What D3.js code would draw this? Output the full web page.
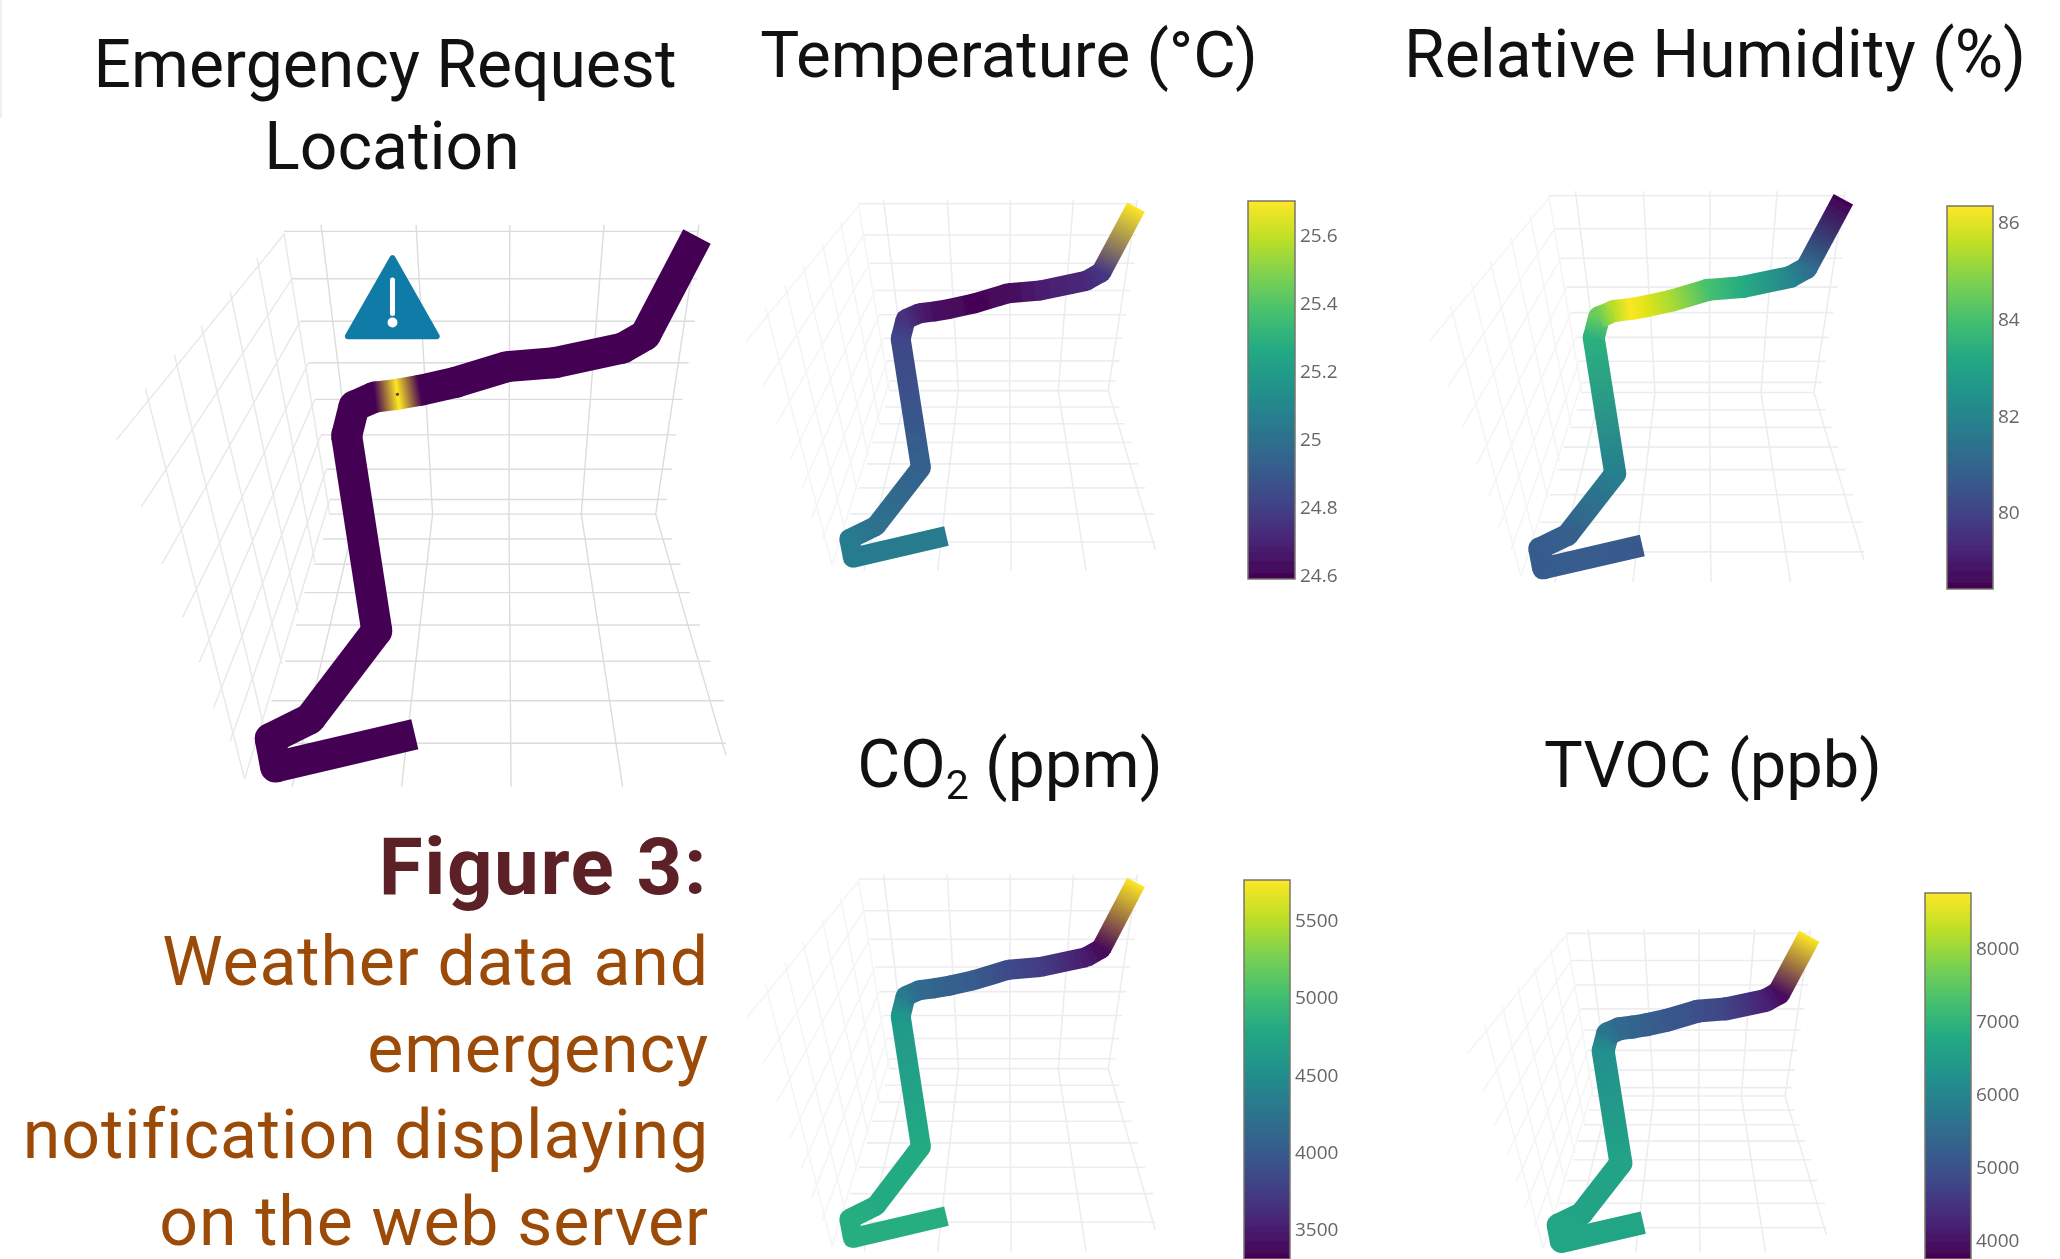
<!DOCTYPE html>
<html>
<head>
<meta charset="utf-8">
<script src="https://cdn.jsdelivr.net/npm/d3@7"></script>
<style>
	html, body { margin: 0; padding: 0; background: #fff; overflow: hidden; }
	text { font-family: Roboto, sans-serif; }
</style>
</head>
<body>
<script>
// route through the building, same for all panels
var routeU = [ 762, 425, 412, 508, 670, 597, 615, 665, 720, 775, 860, 985, 1100, 1265, 1320, 1445 ];
var routeV = [ 1347, 1430, 1358, 1308, 1085, 590, 515, 492, 485, 475, 455, 415, 405, 368, 335, 85 ];

// value at each route point
var emergencyValues = [ 0, 0, 0, 0, 0, 0, 0, 0, 1, 0, 0, 0, 0, 0, 0, 0 ];
var temperatureValues = [ 25.05, 25.05, 25.05, 25.0, 24.93, 24.82, 24.75, 24.68, 24.63, 24.62, 24.6, 24.62, 24.68, 24.72, 24.76, 25.7 ];
var humidityValues = [ 80.6, 80.7, 80.7, 80.8, 81.8, 83.5, 84.5, 85.5, 86.3, 86, 85.3, 84, 83.3, 82, 81.3, 78.4 ];
var co2Values = [ 4850, 4850, 4850, 4800, 4800, 4620, 4300, 4150, 4100, 4050, 4000, 3850, 3750, 3500, 3350, 5760 ];
var tvocValues = [ 6700, 6700, 6700, 6650, 6650, 6250, 5700, 5450, 5350, 5250, 5100, 4950, 4750, 4200, 3900, 8750 ];

var temperatureTicks = [ 24.6, 24.8, 25, 25.2, 25.4, 25.6 ];
var humidityTicks = [ 80, 82, 84, 86 ];
var co2Ticks = [ 3500, 4000, 4500, 5000, 5500 ];
var tvocTicks = [ 4000, 5000, 6000, 7000, 8000 ];

// grid lines of the 3d scene: [u, v] pairs
var wallRows = [ [ 445, 72, 1450 ], [ 465, 192, 1445 ], [ 485, 300, 1440 ], [ 505, 405, 1425 ], [ 520, 498, 1410 ], [ 535, 588, 1395 ], [ 548, 675, 1385 ], [ 556, 752, 1372 ], [ 556, 789, 1345 ] ];
var floorRows = [ [ 540, 852, 1385 ], [ 518, 916, 1405 ], [ 495, 988, 1428 ], [ 475, 1070, 1452 ], [ 448, 1162, 1478 ], [ 415, 1262, 1510 ], [ 380, 1370, 1515 ] ];
var columnLines = [
	[ [ 535, 55 ], [ 620, 789 ], [ 465, 1480 ] ],
	[ [ 765, 55 ], [ 805, 789 ], [ 730, 1480 ] ],
	[ [ 992, 55 ], [ 990, 789 ], [ 995, 1480 ] ],
	[ [ 1220, 55 ], [ 1165, 789 ], [ 1265, 1480 ] ],
	[ [ 1450, 55 ], [ 1345, 789 ], [ 1515, 1400 ] ]
];
var sideRows = [
	[ [ 445, 80 ], [ 40, 600 ] ], [ [ 465, 192 ], [ 100, 770 ] ], [ [ 485, 300 ], [ 150, 915 ] ], [ [ 505, 405 ], [ 200, 1050 ] ],
	[ [ 520, 498 ], [ 240, 1165 ] ], [ [ 535, 588 ], [ 275, 1280 ] ], [ [ 548, 675 ], [ 315, 1365 ] ], [ [ 556, 752 ], [ 350, 1460 ] ]
];
var sideColumns = [
	[ [ 110, 470 ], [ 350, 1460 ] ], [ [ 180, 385 ], [ 395, 1320 ] ], [ [ 245, 310 ], [ 440, 1170 ] ],
	[ [ 315, 225 ], [ 480, 1040 ] ], [ [ 380, 140 ], [ 520, 910 ] ], [ [ 445, 75 ], [ 556, 789 ] ]
];

var warningTriangle = [ [ 708, 140 ], [ 815, 338 ], [ 600, 338 ] ];

var captionLines = [ "Weather data and", "emergency", "notification displaying", "on the web server" ];

var panels = [
	{ id : "emergency", values : emergencyValues, x : [ 100, 761 ], y : [ 203, 834 ], tube : 31, grid : "#dcdcdc", side : "#e8e8e8", gridWidth : 1.4, blur : false },
	{ id : "temp", values : temperatureValues, x : [ 735, 1179 ], y : [ 185, 602 ], tube : 20, grid : "#ededf0", side : "#f5f5f5", gridWidth : 1.6, blur : true,
		bar : { x : 1248, width : 47, top : 201, bottom : 579, domain : [ 24.59, 25.7 ], ticks : temperatureTicks } },
	{ id : "rh", values : humidityValues, x : [ 1418, 1889 ], y : [ 176, 615 ], tube : 22, grid : "#ededf0", side : "#f5f5f5", gridWidth : 1.6, blur : true,
		bar : { x : 1947, width : 46, top : 206, bottom : 589, domain : [ 78.42, 86.35 ], ticks : humidityTicks } },
	{ id : "co2", values : co2Values, x : [ 735, 1179 ], y : [ 860, 1283 ], tube : 20, grid : "#ededf0", side : "#f5f5f5", gridWidth : 1.6, blur : true,
		bar : { x : 1244, width : 46, top : 880, bottom : 1259, domain : [ 3310, 5763 ], ticks : co2Ticks } },
	{ id : "tvoc", values : tvocValues, x : [ 1458, 1847 ], y : [ 917, 1280 ], tube : 23, grid : "#ededf0", side : "#f5f5f5", gridWidth : 1.6, blur : true,
		bar : { x : 1925, width : 46, top : 893, bottom : 1259, domain : [ 3750, 8757 ], ticks : tvocTicks } }
];

var svg = d3.select("body").append("svg")//
.attr("width", 2060)//
.attr("height", 1259)//
.style("display", "block");

var defs = svg.append("defs");
defs.append("filter").attr("id", "soft").attr("x", "-5%").attr("y", "-5%").attr("width", "110%").attr("height", "110%")//
.append("feGaussianBlur").attr("stdDeviation", 0.7);

// faint edge left over at the top left of the picture
svg.append("rect").attr("x", 0).attr("y", 0).attr("width", 2).attr("height", 118).attr("fill", "#f0f0f0");

panels.forEach(drawPanel);
drawTitles();
drawCaption();

function drawPanel(panel) {
	var x = d3.scaleLinear().domain([ 0, 1600 ]).range(panel.x);
	var y = d3.scaleLinear().domain([ 0, 1600 ]).range(panel.y);
	var line = d3.line().x(function(d) {
		return x(d[0]);
	}).y(function(d) {
		return y(d[1]);
	});

	var g = svg.append("g").attr("id", panel.id);
	if (panel.blur) {
		g.attr("filter", "url(#soft)");
	}

	// grid
	var rows = wallRows.concat(floorRows).map(function(r) {
		return [ [ r[0], r[1] ], [ r[2], r[1] ] ];
	});
	g.selectAll(".grid-main").data(rows.concat(columnLines)).enter().append("path")//
	.attr("class", "grid-main")//
	.attr("fill", "none")//
	.attr("stroke", panel.grid)//
	.attr("stroke-width", panel.gridWidth)//
	.attr("d", line);
	g.selectAll(".grid-side").data(sideRows.concat(sideColumns)).enter().append("path")//
	.attr("class", "grid-side")//
	.attr("fill", "none")//
	.attr("stroke", panel.side)//
	.attr("stroke-width", panel.gridWidth)//
	.attr("d", line);

	drawRoute(g, panel, x, y);

	if (panel.id == "emergency") {
		drawWarning(g, x, y);
	}
	if (panel.bar) {
		drawColorbar(g, panel);
	}
}

function drawRoute(g, panel, x, y) {
	var domain = panel.bar ? panel.bar.domain : [ 0, 1 ];
	var color = d3.scaleSequential(d3.interpolateViridis).domain(domain);
	var segments = d3.range(routeU.length - 1);

	// one gradient per segment, plain rgb between the two ends
	segments.forEach(function(i) {
		var gradient = defs.append("linearGradient")//
		.attr("id", panel.id + "-seg-" + i)//
		.attr("gradientUnits", "userSpaceOnUse")//
		.attr("x1", x(routeU[i]))//
		.attr("y1", y(routeV[i]))//
		.attr("x2", x(routeU[i + 1]))//
		.attr("y2", y(routeV[i + 1]));
		gradient.append("stop").attr("offset", "0%").attr("stop-color", color(panel.values[i]));
		gradient.append("stop").attr("offset", "100%").attr("stop-color", color(panel.values[i + 1]));
	});

	g.selectAll(".joint").data(d3.range(1, routeU.length - 1)).enter().append("circle")//
	.attr("class", "joint")//
	.attr("cx", function(i) {
		return x(routeU[i]);
	})//
	.attr("cy", function(i) {
		return y(routeV[i]);
	})//
	.attr("r", panel.tube / 2)//
	.attr("fill", function(i) {
		return color(panel.values[i]);
	});

	g.selectAll(".segment").data(segments).enter().append("line")//
	.attr("class", "segment")//
	.attr("x1", function(i) {
		return x(routeU[i]);
	})//
	.attr("y1", function(i) {
		return y(routeV[i]);
	})//
	.attr("x2", function(i) {
		return x(routeU[i + 1]);
	})//
	.attr("y2", function(i) {
		return y(routeV[i + 1]);
	})//
	.attr("stroke", function(i) {
		return "url(#" + panel.id + "-seg-" + i + ")";
	})//
	.attr("stroke-width", panel.tube);

	if (panel.id == "emergency") {
		g.append("circle")//
		.attr("cx", x(routeU[8]))//
		.attr("cy", y(routeV[8]))//
		.attr("r", 1.5)//
		.attr("fill", "#4a3a20");
	}
}

function drawWarning(g, x, y) {
	var points = warningTriangle.map(function(d) {
		return [ x(d[0]), y(d[1]) ];
	});
	g.append("path")//
	.attr("d", "M" + points.join("L") + "Z")//
	.attr("fill", "#0f7ba6")//
	.attr("stroke", "#0f7ba6")//
	.attr("stroke-width", 6)//
	.attr("stroke-linejoin", "round");

	var cx = points[0][0];
	g.append("path")//
	.attr("d", "M" + cx + "," + y(195) + "L" + cx + "," + y(280))//
	.attr("stroke", "#fff")//
	.attr("stroke-width", 5)//
	.attr("stroke-linecap", "round");
	g.append("circle")//
	.attr("cx", cx)//
	.attr("cy", y(303))//
	.attr("r", 5)//
	.attr("fill", "#fff");
}

function drawColorbar(g, panel) {
	var bar = panel.bar;
	var gradientId = panel.id + "-bar";
	var gradient = defs.append("linearGradient")//
	.attr("id", gradientId)//
	.attr("x1", 0).attr("y1", 1).attr("x2", 0).attr("y2", 0);
	gradient.selectAll("stop").data(d3.range(0, 1.01, 0.1)).enter().append("stop")//
	.attr("offset", function(d) {
		return d;
	})//
	.attr("stop-color", function(d) {
		return d3.interpolateViridis(d);
	});

	g.append("rect")//
	.attr("x", bar.x)//
	.attr("y", bar.top)//
	.attr("width", bar.width)//
	.attr("height", bar.bottom - bar.top)//
	.attr("fill", "url(#" + gradientId + ")")//
	.attr("stroke", "#77776a")//
	.attr("stroke-width", 1.5);

	var scale = d3.scaleLinear().domain(bar.domain).range([ bar.bottom, bar.top ]);
	var axis = d3.axisRight(scale).tickValues(bar.ticks).tickSize(0).tickPadding(5).tickFormat(function(d) {
		return d;
	});
	var axisG = g.append("g")//
	.attr("transform", "translate(" + (bar.x + bar.width) + ",0)")//
	.call(axis);
	axisG.select(".domain").remove();
	axisG.selectAll("text")//
	.attr("fill", "#666")//
	.style("font-family", "'Open Sans', sans-serif")//
	.style("font-size", "19px");
}

function addTitle(label, cx, baseline, size) {
	return svg.append("text")//
	.attr("x", cx)//
	.attr("y", baseline)//
	.attr("text-anchor", "middle")//
	.attr("fill", "#111")//
	.style("font-size", size + "px")//
	.text(label);
}

function drawTitles() {
	addTitle("Emergency Request", 385, 87, 66);
	addTitle("Location", 392, 169, 66);
	addTitle("Temperature (°C)", 1009, 77, 65.5);
	addTitle("Relative Humidity (%)", 1715, 77, 66);
	var co2 = addTitle("CO", 1010, 787, 66);
	co2.append("tspan").attr("dy", 12).style("font-size", "41px").text("2");
	co2.append("tspan").attr("dy", -12).text(" (ppm)");
	addTitle("TVOC (ppb)", 1713, 787, 65);
}

function drawCaption() {
	svg.append("text")//
	.attr("x", 708)//
	.attr("y", 894)//
	.attr("text-anchor", "end")//
	.attr("fill", "#5c2127")//
	.style("font-size", "80px")//
	.style("letter-spacing", "1.5px")//
	.style("font-weight", 700)//
	.text("Figure 3:");
	svg.selectAll(".caption").data(captionLines).enter().append("text")//
	.attr("class", "caption")//
	.attr("x", 709)//
	.attr("y", function(d, i) {
		return 985 + i * 86.5;
	})//
	.attr("text-anchor", "end")//
	.attr("fill", "#9c4a07")//
	.style("font-size", "68px")//
	.style("letter-spacing", "0.9px")//
	.text(function(d) {
		return d;
	});
}
</script>
</body>
</html>
